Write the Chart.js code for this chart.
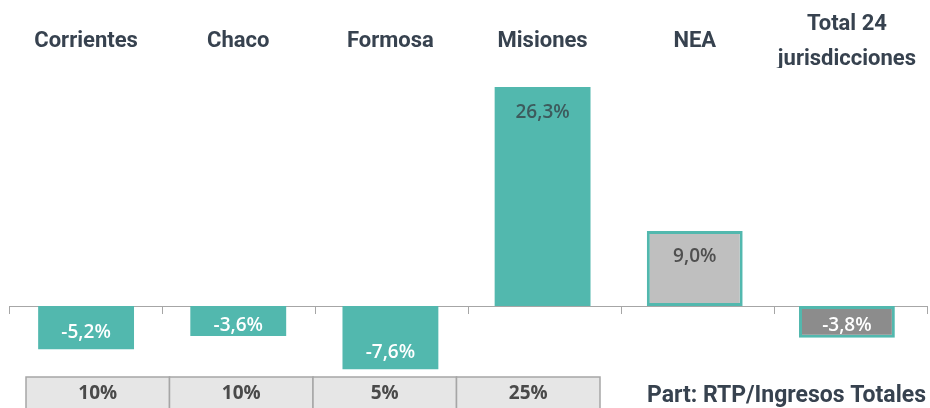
<!DOCTYPE html>
<html>
<head>
<meta charset="utf-8">
<script src="https://cdn.jsdelivr.net/npm/chart.js@4"></script>
<style>
  html, body { margin: 0; padding: 0; background: #fff; }
  #wrap { width: 930px; height: 408px; position: relative; }
</style>
</head>
<body>
<div id="wrap"><canvas id="rtpChart"></canvas></div>
<script>
// data
const jurisdicciones = ['Corrientes', 'Chaco', 'Formosa', 'Misiones', 'NEA', ['Total 24', 'jurisdicciones']];
const variacion = [-5.2, -3.6, -7.6, 26.3, 9.0, -3.8];
const participacion = ['10%', '10%', '5%', '25%'];
const participacionTitulo = 'Part: RTP/Ingresos Totales';

const teal = '#52b8ae';
const fills = [teal, teal, teal, teal, '#bfbfbf', '#8c8c8c'];
const labelColors = ['#ffffff', '#ffffff', '#ffffff', '#3d5a5c', '#4f4f4f', '#ffffff'];
const titleColor = '#37424f';

// zero line with little tick marks at category borders
const zeroAxis = {
  id: 'zeroAxis',
  beforeDatasetsDraw(chart) {
    const { ctx, chartArea, scales } = chart;
    const y0 = scales.y.getPixelForValue(0);
    const right = chart.width - 2;
    ctx.save();
    ctx.strokeStyle = '#a6a6a6';
    ctx.lineWidth = 1;
    ctx.beginPath();
    ctx.moveTo(chartArea.left, y0 + 0.5);
    ctx.lineTo(right, y0 + 0.5);
    const step = (right - chartArea.left) / jurisdicciones.length;
    for (let i = 0; i <= jurisdicciones.length; i++) {
      const x = Math.round(chartArea.left + i * step) - 0.5;
      ctx.moveTo(x, y0);
      ctx.lineTo(x, y0 + 8);
    }
    ctx.stroke();
    ctx.restore();
  }
};

// value labels inside the bars
const barLabels = {
  id: 'barLabels',
  afterDatasetsDraw(chart) {
    const { ctx } = chart;
    const meta = chart.getDatasetMeta(0);
    ctx.save();
    ctx.font = '600 19px "Open Sans"';
    ctx.textAlign = 'center';
    ctx.textBaseline = 'middle';
    meta.data.forEach((bar, i) => {
      const v = variacion[i];
      let y;
      if (v >= 0) y = bar.y + 26;
      else y = Math.max(bar.y - 17, bar.base + 20);
      ctx.fillStyle = labelColors[i];
      ctx.fillText(v.toFixed(1).replace('.', ',') + '%', bar.x, y);
    });
    ctx.restore();
  }
};

// participation table under the chart
const partTable = {
  id: 'partTable',
  afterDraw(chart) {
    const { ctx } = chart;
    const top = 377, h = 32, left = 26, w = 143.5;
    ctx.save();
    participacion.forEach((p, i) => {
      const x = left + i * w;
      ctx.fillStyle = '#e6e6e6';
      ctx.fillRect(x, top, w, h);
      ctx.strokeStyle = '#a6a6a6';
      ctx.lineWidth = 1.5;
      ctx.strokeRect(x, top, w, h);
      ctx.fillStyle = '#4a4a4a';
      ctx.font = 'bold 19px "Open Sans"';
      ctx.textAlign = 'center';
      ctx.textBaseline = 'middle';
      ctx.fillText(p, x + w / 2, top + 17);
    });
    ctx.fillStyle = titleColor;
    ctx.font = 'bold 23px Roboto';
    ctx.textAlign = 'right';
    ctx.textBaseline = 'alphabetic';
    ctx.fillText(participacionTitulo, 926, 402);
    ctx.restore();
  }
};

new Chart(document.getElementById('rtpChart').getContext('2d'), {
  type: 'bar',
  data: {
    labels: jurisdicciones,
    datasets: [{
      data: variacion,
      backgroundColor: fills,
      borderColor: teal,
      borderWidth: [0, 0, 0, 0, 3, 3],
      borderSkipped: false,
      barPercentage: 0.63,
      categoryPercentage: 1
    }]
  },
  options: {
    responsive: true,
    maintainAspectRatio: false,
    animation: false,
    layout: { padding: { top: 0, bottom: 34, left: 10, right: 7 } },
    plugins: { legend: { display: false }, tooltip: { enabled: false } },
    scales: {
      x: {
        position: 'top',
        grid: { display: false },
        border: { display: false },
        afterFit(scale) { scale.height = 68; },
        ticks: {
          color: titleColor,
          font: { family: 'Roboto', weight: 'bold', size: 22, lineHeight: 1.55 },
          crossAlign: 'center',
          maxRotation: 0,
          autoSkip: false,
          padding: 1
        }
      },
      y: {
        display: false,
        min: -8.16,
        max: 28.57
      }
    }
  },
  plugins: [zeroAxis, barLabels, partTable]
});
</script>
</body>
</html>
